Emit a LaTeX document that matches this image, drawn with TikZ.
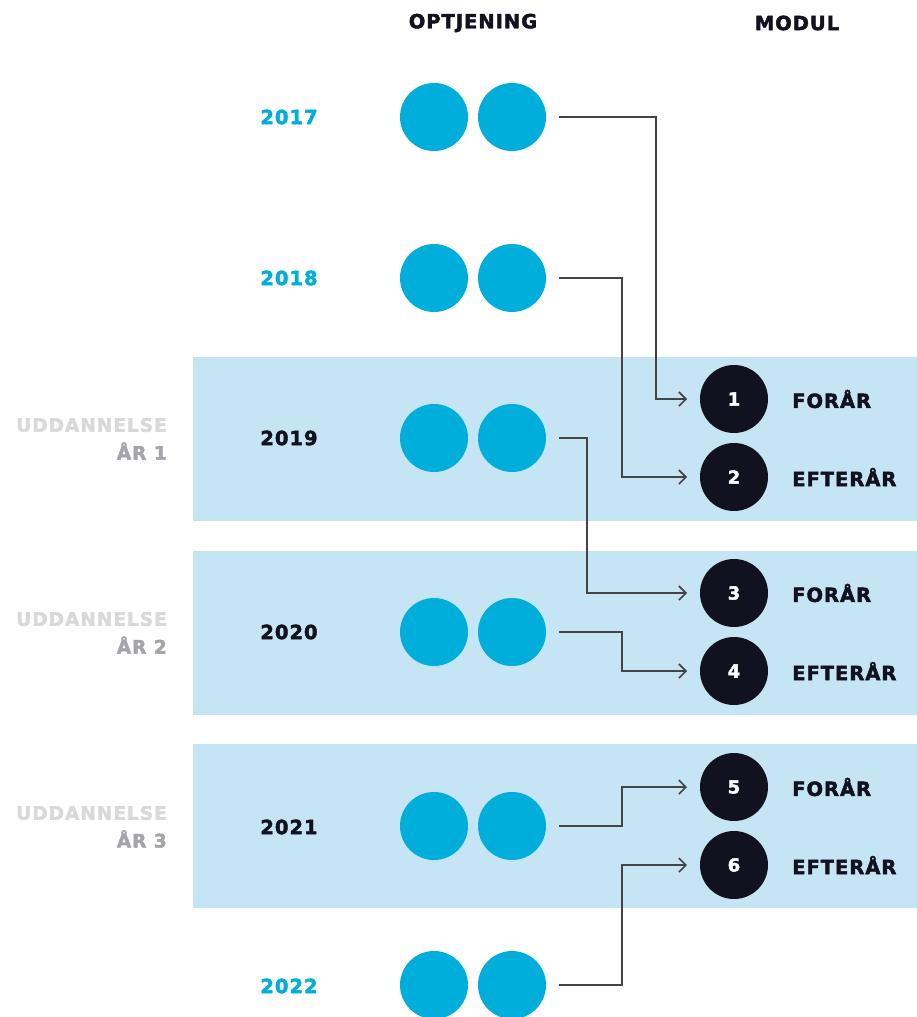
\documentclass[tikz,border=0pt]{standalone}
\usepackage{fontspec}
\setmainfont{DejaVu Sans}[BoldFeatures={FakeBold=2.2,LetterSpace=5}]
\usetikzlibrary{arrows.meta}
\definecolor{cblue}{HTML}{00AEDB}
\definecolor{band}{HTML}{C5E5F4}
\definecolor{ink}{HTML}{12111F}
\definecolor{glight}{HTML}{D9D9DB}
\definecolor{gdark}{HTML}{A4A4AA}
\definecolor{line}{HTML}{444444}
\tikzset{
  lbl/.style={font=\fontsize{19.5}{19.5}\selectfont\bfseries, inner sep=0pt},
  year/.style={lbl, text=ink},
  yearb/.style={lbl, text=cblue},
  dot/.style={circle, fill=cblue, minimum size=68pt, inner sep=0pt},
  mod/.style={circle, fill=ink, minimum size=68pt, inner sep=0pt, text=white, font=\fontsize{18}{18}\selectfont\bfseries},
  sem/.style={lbl, text=ink, anchor=west},
  side1/.style={lbl, font=\fontsize{18.6}{18.6}\selectfont\bfseries, text=glight, anchor=east},
  side2/.style={lbl, font=\fontsize{18.6}{18.6}\selectfont\bfseries, text=gdark, anchor=east},
  conn/.style={draw=line, line width=1.6pt, -{Straight Barb[length=7pt,width=14pt,line width=1.6pt]}}
}
\begin{document}
\begin{tikzpicture}[x=1pt,y=-1pt]
\useasboundingbox (0,0) rectangle (917,1017);
% bands
\fill[band] (193,357) rectangle (917,521);
\fill[band] (193,551) rectangle (917,715);
\fill[band] (193,744) rectangle (917,908);
% headers
\node[lbl, text=ink] (hopt) at (473,23) {OPTJENING};
\node[lbl, text=ink] (hmod) at (797,23) {MODUL};
% side labels
\node[side1] (u1) at (167,425) {UDDANNELSE};
\node[side2] (a1l) at (167,451) {ÅR 1};
\node[side1] (u2) at (167,619) {UDDANNELSE};
\node[side2] (a2l) at (167,645) {ÅR 2};
\node[side1] (u3) at (167,813) {UDDANNELSE};
\node[side2] (a3l) at (167,839) {ÅR 3};
% years
\node[yearb] (y17) at (289,117) {2017};
\node[yearb] (y18) at (289,278) {2018};
\node[year] (y19) at (289,438) {2019};
\node[year] (y20) at (289,632) {2020};
\node[year] (y21) at (289,827) {2021};
\node[yearb] (y22) at (289,986) {2022};
% dots
\foreach \n/\y in {17/117,18/278,19/438,20/632,21/826,22/985}{
  \node[dot] (d\n a) at (434,\y) {};
  \node[dot] (d\n b) at (512,\y) {};
  \coordinate (s\n) at (559,\y);
}
% modules
\node[mod] (m1) at (734,399) {1};
\node[mod] (m2) at (734,477) {2};
\node[mod] (m3) at (734,593) {3};
\node[mod] (m4) at (734,671) {4};
\node[mod] (m5) at (734,787) {5};
\node[mod] (m6) at (734,865) {6};
\foreach \i/\y in {1/399,2/477,3/593,4/671,5/787,6/865}{
  \coordinate (t\i) at (687,\y);
}
\node[sem] (f1) at (792,399) {FORÅR};
\node[sem] (e2) at (792,477) {EFTERÅR};
\node[sem] (f3) at (792,593) {FORÅR};
\node[sem] (e4) at (792,671) {EFTERÅR};
\node[sem] (f5) at (792,787) {FORÅR};
\node[sem] (e6) at (792,865) {EFTERÅR};
% connectors
\draw[conn] (s17) -- ++(97,0) |- (t1);
\draw[conn] (s18) -- ++(63,0) |- (t2);
\draw[conn] (s19) -- ++(28,0) |- (t3);
\draw[conn] (s20) -- ++(63,0) |- (t4);
\draw[conn] (s21) -- ++(63,0) |- (t5);
\draw[conn] (s22) -- ++(63,0) |- (t6);
\end{tikzpicture}
\end{document}
